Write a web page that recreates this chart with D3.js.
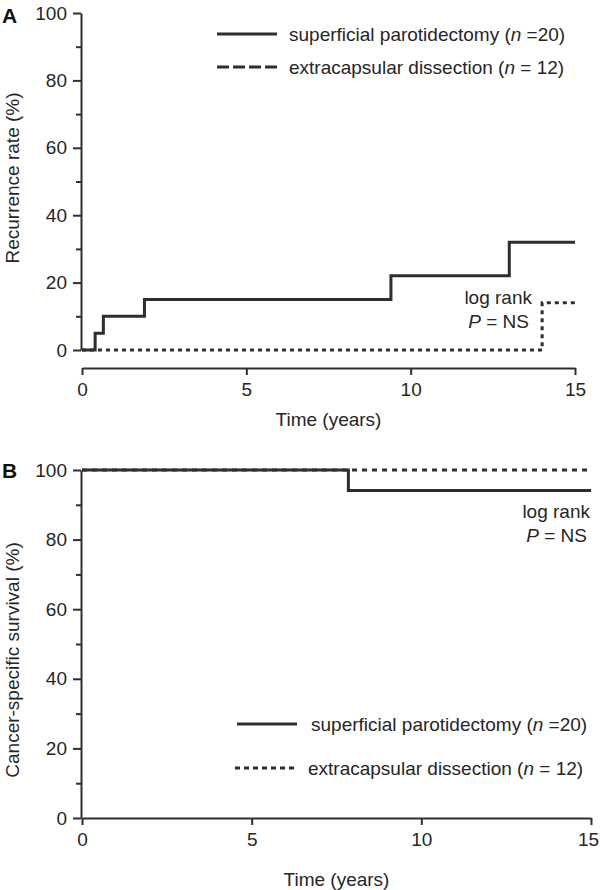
<!DOCTYPE html>
<html><head><meta charset="utf-8">
<script src="https://cdn.jsdelivr.net/npm/d3@7"></script>
<style>
body{margin:0;background:#fff;}
svg{display:block;font-family:"Liberation Sans",Arial,Helvetica,sans-serif;}
</style></head><body>
<svg id="c" width="600" height="890"></svg>
<script>
// Panel A: recurrence (step functions)
const recSupTime = [0, 0.4, 0.65, 1.9, 9.4, 13.0, 15];
const recSupVal  = [0, 5, 10, 15, 22, 32, 32];
const recExtTime = [0, 14.0, 15];
const recExtVal  = [0, 14, 14];
// Panel B: cancer-specific survival
const survSupTime = [0, 7.85, 15];
const survSupVal  = [100, 94.1, 94.1];
const survExtTime = [0, 15];
const survExtVal  = [100, 100];
const xTicks = [0, 5, 10, 15];
const yMajor = [0, 20, 40, 60, 80, 100];
const yMinor = [10, 30, 50, 70, 90];
const legendLabels = ["superficial parotidectomy", "extracapsular dissection"];
const legendN = ["=20", "= 12"];

const svg = d3.select("#c");
const ink = "#2e2e2e", txt = "#262626";
const fs = 19;

function toPts(t, v){ return t.map((d,i)=>[d, v[i]]); }

function panel(opt){
  const g = svg.append("g");
  const x = d3.scaleLinear().domain([0,15]).range(opt.xr);
  const y = d3.scaleLinear().domain([0,100]).range(opt.yr);
  const ya = g.append("g").attr("transform",`translate(${opt.xr[0]-1},0)`)
    .call(d3.axisLeft(y).tickValues(yMajor).tickSize(8).tickSizeOuter(0).tickPadding(6));
  const ym = g.append("g").attr("transform",`translate(${opt.xr[0]-1},0)`)
    .call(d3.axisLeft(y).tickValues(yMinor).tickSize(5).tickFormat(""));
  ym.select(".domain").remove();
  const xa = g.append("g").attr("transform",`translate(0,${opt.xAxisY})`)
    .call(d3.axisBottom(x).tickValues(xTicks).tickSize(7).tickSizeOuter(0).tickPadding(8));
  [ya,ym,xa].forEach(a=>{
    a.selectAll("path,line").attr("stroke",ink).attr("stroke-width",2);
    a.selectAll("text").attr("fill",txt).style("font-size",fs+"px");
  });
  // keep the last x tick label inside the page
  xa.selectAll(".tick text").attr("dx", d => (x(d) + 12 > 600 ? (600 - 12 - x(d)) : 0));
  const line = d3.line().x(d=>x(d[0])).y(d=>y(d[1])).curve(d3.curveStepAfter);
  g.append("path").datum(toPts(opt.extT,opt.extV)).attr("d",line)
    .attr("fill","none").attr("stroke",ink).attr("stroke-width",3).attr("stroke-dasharray",opt.plotDash);
  g.append("path").datum(toPts(opt.supT,opt.supV)).attr("d",line)
    .attr("fill","none").attr("stroke",ink).attr("stroke-width",3);
  g.append("text").attr("x",(opt.xr[0]+opt.xr[1])/2).attr("y",opt.xTitleY).attr("text-anchor","middle")
    .attr("fill",txt).style("font-size",fs+"px").text("Time (years)");
  g.append("text").attr("transform",`translate(${opt.yTitleX},${opt.yTitleY}) rotate(-90)`)
    .attr("text-anchor","middle").attr("fill",txt).style("font-size",fs+"px").text(opt.yTitle);
  g.append("text").attr("x",2).attr("y",opt.letterY).attr("fill","#111")
    .style("font-size","21px").style("font-weight","bold").text(opt.letter);
  g.append("text").attr("text-anchor","end").attr("fill",txt).style("font-size",fs+"px")
    .attr("x",opt.lrX).attr("y",opt.lrY).text("log rank");
  const p = g.append("text").attr("text-anchor","end").attr("fill",txt).style("font-size",fs+"px")
    .attr("x",opt.lrX-3).attr("y",opt.lrY+24);
  p.append("tspan").style("font-style","italic").text("P");
  p.append("tspan").text(" = NS");
  opt.leg.forEach((L,i)=>{
    g.append("line").attr("x1",L.x1).attr("x2",L.x2).attr("y1",L.y).attr("y2",L.y)
      .attr("stroke",ink).attr("stroke-width",3).attr("stroke-dasharray",L.dash||null);
    const t = g.append("text").attr("x",L.tx).attr("y",L.y+7).attr("fill",txt).style("font-size",fs+"px");
    t.append("tspan").text(legendLabels[i]+" (");
    t.append("tspan").style("font-style","italic").text("n");
    t.append("tspan").text(" "+legendN[i]+")");
  });
}

panel({xr:[82,575], yr:[350,13], xAxisY:368, xTitleY:426, yTitleX:19, yTitleY:178,
  yTitle:"Recurrence rate (%)", letter:"A", letterY:23, plotDash:"4,4",
  supT:recSupTime, supV:recSupVal, extT:recExtTime, extV:recExtVal,
  lrX:532, lrY:304,
  leg:[{x1:217,x2:277,y:34,tx:289},{x1:217,x2:277,y:67,tx:289,dash:"12,4"}]});

panel({xr:[82,591], yr:[818,470], xAxisY:818, xTitleY:886, yTitleX:19, yTitleY:660,
  yTitle:"Cancer-specific survival (%)", letter:"B", letterY:478, plotDash:"5,5",
  supT:survSupTime, supV:survSupVal, extT:survExtTime, extV:survExtVal,
  lrX:590, lrY:518,
  leg:[{x1:237,x2:297,y:724,tx:311},{x1:235,x2:297,y:768,tx:308,dash:"5,4"}]});
</script></body></html>
